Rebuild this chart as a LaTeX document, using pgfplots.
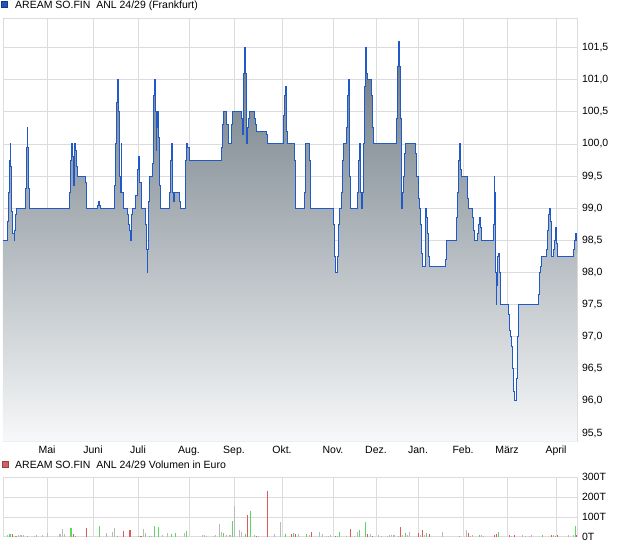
\documentclass[border=0pt]{standalone}
\usepackage{pgfplots}
\pgfplotsset{compat=1.18}
\usepackage{pgfplotstable}
\usepackage{fontspec}
\setmainfont{Liberation Sans}
\definecolor{linecol}{RGB}{31,90,200}
\definecolor{gridcol}{RGB}{220,220,220}
\definecolor{filltop}{RGB}{108,121,130}
\definecolor{fillbot}{RGB}{247,248,249}
\definecolor{volgreen}{RGB}{95,215,95}
\definecolor{volred}{RGB}{220,90,90}
\definecolor{volgray}{RGB}{185,185,185}
\definecolor{legblue}{RGB}{30,85,190}
\definecolor{legred}{RGB}{215,95,95}

\pgfplotstableread{
x y
3.0 98.5
7.3 98.8
8.3 99.25
9.3 99.75
10.3 100.0
11.0 99.65
12.0 98.95
12.7 98.6
14.3 98.5
14.7 98.65
15.3 98.9
16.7 99.0
25.3 99.3
26.7 99.95
27.3 100.25
28.0 99.95
28.3 99.3
29.7 99.0
69.3 99.25
70.3 99.75
71.3 100.0
72.0 99.8
73.0 99.35
74.7 100.0
75.7 99.9
76.3 99.65
77.3 99.5
85.0 99.4
86.0 99.15
86.7 99.0
97.7 99.05
98.7 99.1
99.5 99.05
100.7 99.0
114.3 99.35
115.3 100.0
116.3 100.65
117.0 101.0
118.0 100.5
119.0 99.5
120.0 99.25
121.0 100.0
121.7 99.25
123.3 99.0
127.7 98.9
128.7 98.75
129.3 98.65
130.0 98.5
131.0 98.9
132.3 99.0
135.7 99.2
137.0 99.6
138.0 99.8
139.0 99.7
139.7 99.4
141.0 99.15
141.7 99.0
145.3 98.75
146.3 98.35
147.0 98.0
147.7 98.35
148.7 99.1
149.3 99.5
152.3 99.7
153.0 100.25
153.7 100.75
154.3 101.0
155.0 100.5
156.0 99.9
156.7 100.25
157.7 100.5
158.7 100.1
159.7 99.35
160.7 99.0
169.7 99.25
170.7 99.75
171.7 100.0
172.3 99.25
173.3 99.1
174.3 99.25
179.3 99.1
180.3 99.0
185.3 99.75
186.3 100.0
187.3 99.95
189.0 99.75
221.7 99.95
222.7 100.3
223.7 100.5
226.7 100.3
228.0 100.0
231.0 100.3
232.3 100.5
241.3 100.4
242.7 100.15
243.7 101.1
244.7 101.5
245.7 101.1
246.7 100.0
247.7 100.25
248.7 100.4
249.7 100.5
254.3 100.4
255.3 100.3
256.3 100.2
266.3 100.15
267.0 100.05
267.7 100.0
283.0 100.45
284.0 100.75
285.0 100.9
286.0 100.65
286.7 100.2
287.7 100.0
294.3 99.75
295.0 99.25
295.7 99.0
304.3 99.25
305.0 99.75
305.7 100.0
309.3 99.75
310.0 99.25
310.7 99.0
333.7 98.75
334.7 98.25
335.3 98.0
337.3 98.25
338.0 98.75
339.3 99.0
341.3 99.25
342.7 99.75
343.7 100.0
346.7 100.25
347.7 100.75
348.3 101.0
349.0 100.5
349.7 99.5
350.3 99.0
357.7 99.25
358.7 99.75
359.3 100.0
360.0 99.75
360.7 99.25
361.3 99.0
362.7 99.25
363.3 100.0
364.0 100.9
365.0 101.35
365.7 101.5
366.3 101.1
367.7 101.0
371.3 100.75
372.3 100.25
373.3 100.0
396.7 100.4
397.3 101.2
398.3 101.6
399.3 101.2
400.3 100.4
401.0 99.75
401.7 99.0
402.3 99.25
403.3 99.5
404.3 99.85
405.3 100.0
415.7 99.85
416.7 99.5
418.0 99.15
419.0 99.0
420.7 98.75
421.7 98.3
422.3 98.1
425.0 98.3
425.7 99.0
426.7 98.85
427.7 98.6
428.7 98.25
429.7 98.1
445.0 98.2
446.0 98.4
446.7 98.5
456.0 98.85
457.0 99.25
458.3 99.75
459.0 100.0
460.0 99.9
460.7 99.6
461.7 99.5
467.0 99.4
467.7 99.15
468.7 99.0
472.3 98.85
473.3 98.65
474.0 98.5
477.3 98.6
478.3 98.75
479.3 98.85
480.0 98.7
481.0 98.5
493.0 98.75
494.0 99.5
494.7 99.25
495.3 99.0
495.7 98.0
496.3 97.5
496.7 97.8
497.7 98.25
498.7 98.3
499.3 98.0
500.7 97.5
508.3 97.35
509.0 97.1
510.0 97.0
511.0 96.85
512.3 96.5
513.7 96.15
514.3 96.0
516.7 96.35
517.3 97.0
518.3 97.5
538.3 97.65
539.3 98.0
540.7 98.1
541.7 98.25
546.7 98.35
547.7 98.65
548.3 98.9
549.3 99.0
550.0 98.8
551.0 98.45
551.7 98.25
553.3 98.35
554.3 98.5
555.3 98.7
556.0 98.45
557.0 98.25
573.0 98.35
574.7 98.5
575.3 98.6
576.0 98.5
577.0 98.3
}\pricedata

\pgfplotstableread{
x v
10.0 13
16.0 5
27.3 5
71.0 43
75.3 5
99.3 53
117.3 5
138.3 5
149.3 5
154.3 53
158.3 48
171.3 13
175.3 20
186.3 30
223.3 17
232.3 78
245.3 13
250.3 128
285.3 13
293.3 18
306.3 13
339.3 23
359.3 33
365.3 73
398.3 5
405.3 20
426.3 17
459.3 5
479.3 10
498.3 22
542.3 10
555.3 5
575.3 52
}\volgreendata

\pgfplotstableread{
x v
12.3 13
73.3 13
86.3 43
123.3 30
130.0 33
141.0 5
247.3 108
256.3 5
267.7 233
291.3 13
295.3 13
311.3 23
335.3 5
350.3 38
367.3 13
372.3 5
400.3 47
418.3 20
422.3 36
429.3 15
468.3 17
494.3 10
496.3 15
509.3 7
514.3 10
551.3 10
557.3 7
576.5 7
}\volreddata

\pgfplotstableread{
x v
7.3 8
18.3 8
21.0 8
23.3 8
34.3 5
36.7 8
42.7 8
47.3 20
60.0 13
62.3 38
64.3 13
106.7 20
112.3 25
114.3 43
143.3 38
145.3 20
151.7 5
162.7 8
167.3 20
184.3 20
202.3 8
204.3 8
206.7 5
213.3 5
215.7 8
219.3 63
221.3 23
226.7 8
230.0 8
234.3 153
239.3 33
241.3 23
254.3 8
258.3 5
274.3 13
280.3 73
298.3 13
309.3 8
319.3 23
322.3 13
326.3 5
328.3 5
330.3 8
337.3 5
346.3 5
354.3 5
357.3 23
370.3 13
378.3 8
381.3 5
387.3 5
389.3 8
391.7 7
394.0 7
402.7 7
407.3 7
409.3 26
420.3 10
424.3 7
442.3 26
466.3 36
470.3 5
472.3 7
481.3 7
483.3 5
511.3 5
522.3 7
525.3 5
529.3 5
531.3 7
553.3 7
568.3 7
573.3 9
}\volgraydata

\begin{document}
\begin{tikzpicture}[font=\fontsize{10.5}{12}\selectfont]
\path[use as bounding box] (0,0) rectangle (620pt,546pt);

% top legend
\draw[legblue!70!black, fill=legblue, line width=0.5pt] (1.5pt,538.5pt) rectangle (7.5pt,544.5pt);
\node[anchor=west, inner sep=0pt] at (15pt,540.3pt) {AREAM SO.FIN\ \ ANL 24/29 (Frankfurt)};

\begin{axis}[
  at={(3pt,104.5pt)}, anchor=south west, scale only axis,
  width=574pt, height=423.2pt,
  xmin=3, xmax=577, ymin=95.369, ymax=101.956,
  axis line style={gridcol, line width=0.8pt},
  xtick={47,93,138,189,234,282,333,376,418,463,507,556},
  xticklabels={Mai,Juni,Juli,Aug.,Sep.,Okt.,Nov.,Dez.,Jan.,Feb.,März,April},
  ytick={95.5,96,96.5,97,97.5,98,98.5,99,99.5,100,100.5,101,101.5},
  yticklabel pos=right,
  grid=major, major grid style={gridcol, line width=0.8pt},
  tick style={draw=none},
  /pgf/number format/assume math mode=true,
  yticklabel style={/pgf/number format/.cd, use comma, fixed, fixed zerofill, precision=1, /tikz/.cd, anchor=west, xshift=1.5pt},
  ticklabel style={font=\fontsize{10.5}{12}\selectfont},
  xticklabel style={yshift=-1pt},
]
\addplot[const plot, top color=filltop, bottom color=fillbot, draw=none, forget plot] table[x=x,y=y] {\pricedata} -- (axis cs:577,95.369) -- (axis cs:3,95.369) -- cycle;
\addplot[const plot, draw=linecol, line width=1pt, mark=none] table[x=x,y=y] {\pricedata};
\end{axis}

% volume legend
\draw[legred!70!black, fill=legred, line width=0.5pt] (2.5pt,78.5pt) rectangle (8.5pt,84.5pt);
\node[anchor=west, inner sep=0pt] at (15pt,81pt) {AREAM SO.FIN\ \ ANL 24/29 Volumen in Euro};

\begin{axis}[
  at={(3pt,9.3pt)}, anchor=south west, scale only axis,
  width=574pt, height=59.4pt,
  xmin=3, xmax=577, ymin=0, ymax=300,
  axis line style={gridcol, line width=0.8pt},
  xtick={47,93,138,189,234,282,333,376,418,463,507,556},
  xticklabels={},
  ytick={0,100,200,300},
  yticklabels={0T,100T,200T,300T},
  yticklabel pos=right,
  grid=major, major grid style={gridcol, line width=0.8pt},
  tick style={draw=none},
  yticklabel style={anchor=west, xshift=1.5pt, font=\fontsize{10.5}{12}\selectfont},
]
\addplot[ycomb, draw=volgray, line width=1.1pt, mark=none] table[x=x,y=v] {\volgraydata};
\addplot[ycomb, draw=volgreen, line width=1.1pt, mark=none] table[x=x,y=v] {\volgreendata};
\addplot[ycomb, draw=volred, line width=1.1pt, mark=none] table[x=x,y=v] {\volreddata};
\end{axis}
\end{tikzpicture}
\end{document}
